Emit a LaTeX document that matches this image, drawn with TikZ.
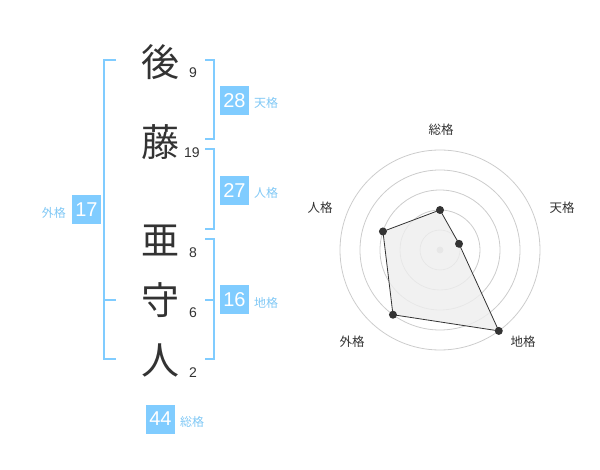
\documentclass[tikz,border=0pt]{standalone}
\usepackage{fontspec}
\usetikzlibrary{calc}
\setmainfont{Liberation Sans}
\newfontfamily\cjk{Noto Sans CJK JP}
\definecolor{kbox}{HTML}{80CCFF}
\definecolor{klab}{HTML}{80C8F5}
\definecolor{kdark}{HTML}{333333}
\definecolor{kring}{HTML}{CCCCCC}
\definecolor{kfill}{HTML}{EEEEEE}
\begin{document}
\begin{tikzpicture}[x=1pt,y=-1pt,
  kanji/.style={font=\cjk\fontsize{38}{38}\selectfont, text=kdark, inner sep=0pt},
  stroke/.style={font=\fontsize{14}{14}\selectfont, text=kdark, inner sep=0pt},
  brk/.style={draw=kbox, line width=2pt},
  numbox/.style={fill=kbox, text=white, minimum width=29pt, minimum height=29pt, inner sep=0pt, font=\fontsize{20}{20}\selectfont},
  lab/.style={text=klab, font=\cjk\fontsize{12}{12}\selectfont, inner sep=0pt},
  rlab/.style={text=kdark, font=\cjk\fontsize{12.5}{12.5}\selectfont, inner sep=0pt},
  ring/.style={draw=kring, line width=0.8pt},
  dot/.style={circle, fill=kdark, inner sep=0pt, minimum size=8pt}]
\useasboundingbox (0,0) rectangle (600,470);
% name characters
\node[kanji] (k1) at (160,62) {後};
\node[kanji] (k2) at (160,142) {藤};
\node[kanji] (k3) at (160,240) {亜};
\node[kanji] (k4) at (160,300) {守};
\node[kanji] (k5) at (160,360) {人};
\node[stroke] (s1) at (193,73) {9};
\node[stroke] (s2) at (192,153) {19};
\node[stroke] (s3) at (193,253) {8};
\node[stroke] (s4) at (193,313) {6};
\node[stroke] (s5) at (193,373) {2};
% brackets
\draw[brk] (116,60) -- (104,60) -- (104,359) -- (116,359);
\draw[brk] (104,300) -- (116,300);
\draw[brk] (205,60) -- (214,60) -- (214,139) -- (205,139);
\draw[brk] (205,149) -- (214,149) -- (214,229) -- (205,229);
\draw[brk] (205,239) -- (214,239) -- (214,359) -- (205,359);
\draw[brk] (205,300) -- (214,300);
% boxes
\node[numbox] (ten) at (234.5,100.5) {28};
\node[lab, anchor=west] (tenl) at (254,103) {天格};
\node[numbox] (jin) at (234.5,190.5) {27};
\node[lab, anchor=west] (jinl) at (254,193) {人格};
\node[numbox] (chi) at (234.5,300) {16};
\node[lab, anchor=west] (chil) at (254,303) {地格};
\node[numbox] (gai) at (86.5,210) {17};
\node[lab, anchor=east] (gail) at (66,213) {外格};
\node[numbox] (sou) at (160.5,419) {44};
\node[lab, anchor=west] (soul) at (180,422) {総格};
% radar
\coordinate (c) at (440,250);
\foreach \r in {20,40,60,80,100} \draw[ring] (c) circle (\r);
\fill[kring] (c) circle (3.5);
\coordinate (p1) at ($(c)+(-90:40)$);
\coordinate (p2) at ($(c)+(-18:20)$);
\coordinate (p3) at ($(c)+(54:100)$);
\coordinate (p4) at ($(c)+(126:80)$);
\coordinate (p5) at ($(c)+(198:60)$);
\draw[kdark, fill=kfill, fill opacity=0.8, line width=0.8pt] (p1) -- (p2) -- (p3) -- (p4) -- (p5) -- cycle;
\foreach \p in {p1,p2,p3,p4,p5} \node[dot] at (\p) {};
\node[rlab] (r1) at (441,130) {総格};
\node[rlab] (r2) at (562,208) {天格};
\node[rlab] (r3) at (523,342) {地格};
\node[rlab] (r4) at (352,342) {外格};
\node[rlab] (r5) at (320,208) {人格};
\end{tikzpicture}
\end{document}
